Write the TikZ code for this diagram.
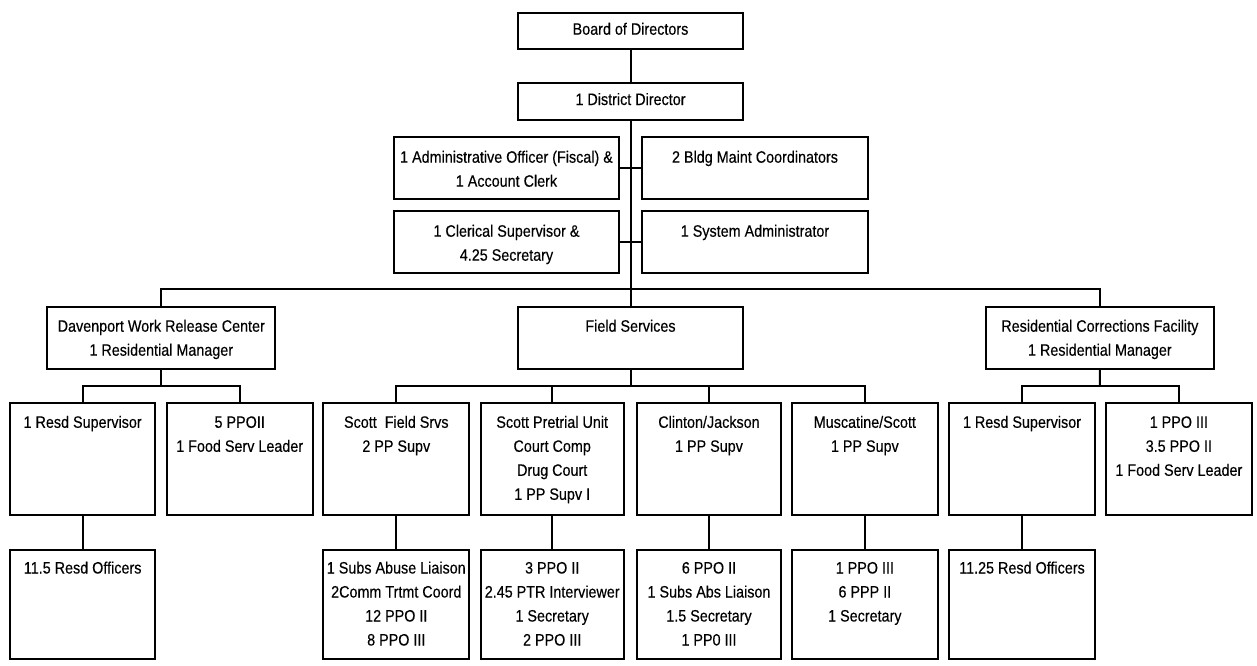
\documentclass[tikz,border=0pt]{standalone}
\usepackage{fontspec}
\setmainfont[FakeStretch=0.87,FakeBold=0.3]{Liberation Sans}
\tikzset{
  orgbox/.style={draw=black, line width=2pt, fill=white, inner sep=0pt, outer sep=0pt, anchor=north west,
    font=\fontsize{16.5}{24}\selectfont},
  link/.style={draw=black, line width=2pt}
}
\newcommand\orgnode[7]{%
  \node[orgbox] (#1) at (#2,#3) {\parbox[t][#5pt][t]{#4pt}{\centering\rule{0pt}{#6pt}#7}};}
\begin{document}
\begin{tikzpicture}[x=1pt,y=-1pt]
\useasboundingbox (0,0) rectangle (1257,665);
% top level
\orgnode{board}{518}{12.7}{225}{36.3}{22}{Board of Directors}
\orgnode{dir}{518}{83}{225}{37}{22}{1 District Director}
\orgnode{admin}{394}{136.7}{225}{62.3}{26}{1 Administrative Officer (Fiscal) \&\\1 Account Clerk}
\orgnode{bldg}{642}{136.7}{226}{62.3}{26}{2 Bldg Maint Coordinators}
\orgnode{cler}{394}{210.7}{225}{62.6}{26}{1 Clerical Supervisor \&\\4.25 Secretary}
\orgnode{sys}{642}{210.7}{226}{62.6}{26}{1 System Administrator}
% second level
\orgnode{dav}{47.3}{306.7}{228}{62.3}{25}{Davenport Work Release Center\\1 Residential Manager}
\orgnode{field}{518}{306.7}{225}{62.3}{25}{Field Services}
\orgnode{rcf}{985.7}{306.7}{228.3}{62.3}{25}{Residential Corrections Facility\\1 Residential Manager}
% third level
\orgnode{dres}{10}{403.3}{145.3}{112}{24.5}{1 Resd Supervisor}
\orgnode{dppo}{166.7}{403.3}{146}{112}{24.5}{5 PPOII\\1 Food Serv Leader}
\orgnode{sfs}{323.3}{403.3}{146}{112}{24.5}{Scott\ \ Field Srvs\\2 PP Supv}
\orgnode{spu}{480.7}{403.3}{143}{112}{24.5}{Scott Pretrial Unit\\Court Comp\\Drug Court\\1 PP Supv I}
\orgnode{cj}{637.3}{403.3}{143.4}{112}{24.5}{Clinton/Jackson\\1 PP Supv}
\orgnode{ms}{792}{403.3}{145.7}{112}{24.5}{Muscatine/Scott\\1 PP Supv}
\orgnode{rres}{949.3}{403.3}{145.4}{112}{24.5}{1 Resd Supervisor}
\orgnode{rppo}{1105.7}{403.3}{146.3}{112}{24.5}{1 PPO III\\3.5 PPO II\\1 Food Serv Leader}
% fourth level
\orgnode{dofc}{10}{550}{145.3}{108.7}{23.5}{11.5 Resd Officers}
\orgnode{sfs2}{323.3}{550}{146}{108.7}{23.5}{1 Subs Abuse Liaison\\2Comm Trtmt Coord\\12 PPO II\\8 PPO III}
\orgnode{spu2}{480.7}{550}{143}{108.7}{23.5}{3 PPO II\\2.45 PTR Interviewer\\1 Secretary\\2 PPO III}
\orgnode{cj2}{637.3}{550}{143.4}{108.7}{23.5}{6 PPO II\\1 Subs Abs Liaison\\1.5 Secretary\\1 PP0 III}
\orgnode{ms2}{792}{550}{145.7}{108.7}{23.5}{1 PPO III\\6 PPP II\\1 Secretary}
\orgnode{rofc}{949.3}{550}{145.4}{108.7}{23.5}{11.25 Resd Officers}
% bar coordinates
\coordinate (mainbar) at (630.5,289.3);
\coordinate (davbar) at (161.3,386);
\coordinate (fieldbar) at (630.5,386);
\coordinate (rcfbar) at (1099.8,386);
% connectors
\draw[link] (board.south) -- (dir.north);
\draw[link] (dir.south) -- (field.north);
\draw[link] (admin.east) -- (bldg.west);
\draw[link] (cler.east) -- (sys.west);
\draw[link] (dav.north) |- (mainbar) -| (rcf.north);
\draw[link] (dav.south) -- (davbar);
\draw[link] (dres.north) |- (davbar) -| (dppo.north);
\draw[link] (field.south) -- (fieldbar);
\draw[link] (sfs.north) |- (fieldbar) -| (ms.north);
\draw[link] (spu.north) -- (spu.north |- fieldbar);
\draw[link] (cj.north) -- (cj.north |- fieldbar);
\draw[link] (rcf.south) -- (rcfbar);
\draw[link] (rres.north) |- (rcfbar) -| (rppo.north);
\draw[link] (dres.south) -- (dofc.north);
\draw[link] (sfs.south) -- (sfs2.north);
\draw[link] (spu.south) -- (spu2.north);
\draw[link] (cj.south) -- (cj2.north);
\draw[link] (ms.south) -- (ms2.north);
\draw[link] (rres.south) -- (rofc.north);
\end{tikzpicture}
\end{document}
